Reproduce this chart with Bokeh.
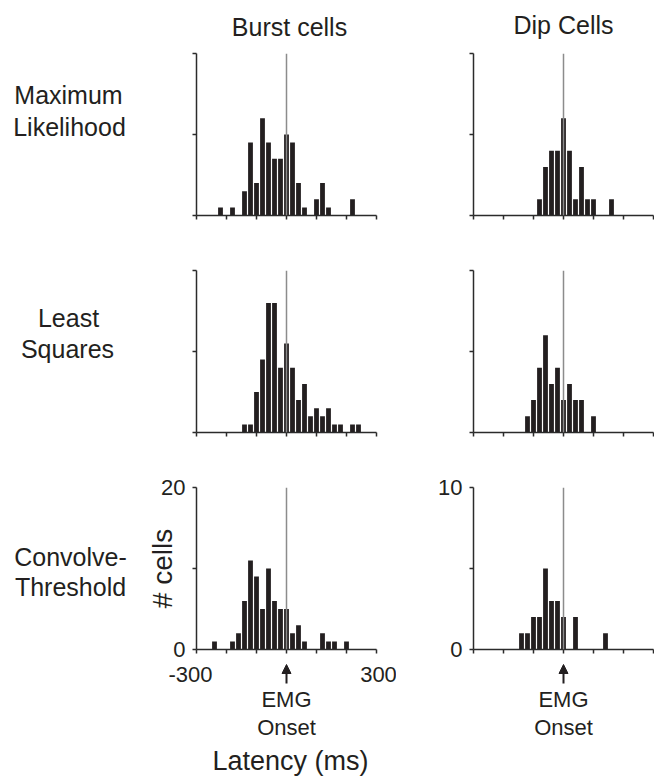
from bokeh.plotting import figure
from bokeh.models import Range1d, FixedTicker, Label, Span, Arrow, NormalHead, Spacer
from bokeh.layouts import column, row
from bokeh.embed import file_html
from bokeh.resources import INLINE

# ---------------- data (bin centres in ms, number of cells) ----------------
burst_ml_x = [-220, -180, -140, -120, -100, -80, -60, -40, -20, 0, 20, 40, 60, 100, 120, 140, 220]
burst_ml_n = [1, 1, 3, 9, 4, 12, 9, 7, 7, 10, 9, 4, 1, 2, 4, 1, 2]

dip_ml_x = [-80, -60, -40, -20, 0, 20, 40, 60, 80, 100, 160]
dip_ml_n = [1, 3, 4, 4, 6, 4, 1, 3, 1, 1, 1]

burst_ls_x = [-140, -120, -100, -80, -60, -40, -20, 0, 20, 40, 60, 80, 100, 120, 140, 160, 180, 220, 240]
burst_ls_n = [1, 1, 5, 9, 16, 16, 8, 11, 8, 4, 6, 2, 3, 2, 3, 1, 1, 1, 1]

dip_ls_x = [-120, -100, -80, -60, -40, -20, 0, 20, 40, 60, 100]
dip_ls_n = [1, 2, 4, 6, 3, 4, 2, 3, 2, 2, 1]

burst_ct_x = [-240, -180, -160, -140, -120, -100, -80, -60, -40, -20, 0, 20, 40, 60, 120, 140, 160, 200]
burst_ct_n = [1, 1, 2, 6, 11, 9, 5, 10, 6, 5, 5, 2, 3, 1, 2, 1, 1, 1]

dip_ct_x = [-140, -120, -100, -80, -60, -40, -20, 0, 40, 140]
dip_ct_n = [1, 1, 2, 2, 5, 3, 3, 2, 2, 1]

x_ticks = [-300, -200, -100, 0, 100, 200, 300]
x_tick_labels = {-300: "-300", 300: "300"}
burst_y_ticks = [0, 10, 20]
dip_y_ticks = [0, 5, 10]
onset_x = 0

col_titles = ["Burst cells", "Dip Cells"]
row_titles = [["Maximum", "Likelihood"], ["Least", "Squares"], ["Convolve-", "Threshold"]]
y_title = "# cells"
onset_text = ["EMG", "Onset"]
x_title = "Latency (ms)"

# ---------------- geometry (page pixels) ----------------
FONT = "Liberation Sans"
INK = "#231f20"
AXIS = "#2b2b2b"
GUIDE = "#8c8c8c"
XMIN, XMAX = -300, 300

COL0_W = 130
FW, FH = 180, 162
LEFT_B = [66, 77]
RIGHT_B = [20, 1]
COL_W = [LEFT_B[0] + FW + RIGHT_B[0], LEFT_B[1] + FW + RIGHT_B[1]]
COL_X = [COL0_W, COL0_W + COL_W[0]]          # page x where each panel column starts

TITLE_H = 50
TOP_B = [3, 35, 35]
BOT_B = [20, 20, 14]
ROW_H = [TOP_B[i] + FH + BOT_B[i] for i in range(3)]
ROW_Y = [TITLE_H, TITLE_H + ROW_H[0], TITLE_H + ROW_H[0] + ROW_H[1]]
BOTTOM_Y = ROW_Y[2] + ROW_H[2]
BOTTOM_H = 114


def text_fig(w, h, xr, yr, top=0, bottom=0):
    p = figure(frame_width=w, frame_height=h, min_border=0,
               min_border_top=top, min_border_bottom=bottom,
               x_range=xr, y_range=yr,
               x_axis_location=None, y_axis_location=None,
               output_backend="svg", toolbar_location=None, tools="")
    p.outline_line_color = None
    p.grid.visible = False
    p.background_fill_color = "white"
    p.border_fill_color = "white"
    return p


def label(p, text, x, y, size, x_offset=0):
    # y is the vertical centre of the text (page pixels)
    p.add_layout(Label(x=x, y=y, text=text, text_font=FONT, text_font_size=size,
                       text_color=INK, text_align="center", text_baseline="middle",
                       x_offset=x_offset))


def style_axis(ax):
    ax.axis_line_color = AXIS
    ax.axis_line_width = 1.5
    ax.major_tick_line_color = AXIS
    ax.major_tick_line_width = 1.5
    ax.major_tick_in = 0
    ax.major_tick_out = 4
    ax.minor_tick_line_color = None
    ax.major_label_text_font = FONT
    ax.major_label_text_color = INK
    ax.major_label_text_font_size = "22px"


def make_panel(r, c, xs, ns, yticks, show_ylabels):
    ymax = yticks[-1]
    p = figure(frame_width=FW, frame_height=FH,
               min_border_left=LEFT_B[c], min_border_right=RIGHT_B[c],
               min_border_top=TOP_B[r], min_border_bottom=BOT_B[r],
               x_range=Range1d(XMIN, XMAX), y_range=Range1d(0, ymax),
               output_backend="svg", toolbar_location=None, tools="")
    p.outline_line_color = None
    p.grid.visible = False
    p.background_fill_color = "white"
    p.border_fill_color = "white"

    p.vbar(x=xs, top=ns, bottom=0, width=16, fill_color=INK, line_color=None)
    p.add_layout(Span(location=onset_x, dimension="height", line_color=GUIDE, line_width=1.5))

    style_axis(p.xaxis[0])
    style_axis(p.yaxis[0])
    p.xaxis.ticker = FixedTicker(ticks=x_ticks)
    p.yaxis.ticker = FixedTicker(ticks=yticks)
    p.xaxis.major_label_overrides = {t: "" for t in x_ticks}
    p.xaxis.major_label_standoff = 0
    if show_ylabels:
        p.yaxis.major_label_standoff = 7
        p.yaxis.major_label_overrides = {yticks[1]: ""}
    else:
        p.yaxis.major_label_overrides = {t: "" for t in yticks}
        p.yaxis.major_label_standoff = 0
    return p


panels = [
    [make_panel(0, 0, burst_ml_x, burst_ml_n, burst_y_ticks, False),
     make_panel(0, 1, dip_ml_x, dip_ml_n, dip_y_ticks, False)],
    [make_panel(1, 0, burst_ls_x, burst_ls_n, burst_y_ticks, False),
     make_panel(1, 1, dip_ls_x, dip_ls_n, dip_y_ticks, False)],
    [make_panel(2, 0, burst_ct_x, burst_ct_n, burst_y_ticks, True),
     make_panel(2, 1, dip_ct_x, dip_ct_n, dip_y_ticks, True)],
]

# y-axis title on the bottom-left panel
ya = panels[2][0].yaxis[0]
ya.axis_label = y_title
ya.axis_label_text_font = FONT
ya.axis_label_text_font_size = "28px"
ya.axis_label_text_font_style = "normal"
ya.axis_label_text_color = INK
ya.axis_label_standoff = -20

# ---------------- column titles (page coordinates, text centres) ----------------
title_figs = []
title_pos = [(289, 26), (563, 24)]
for c in range(2):
    tf = text_fig(COL_W[c], TITLE_H,
                  Range1d(COL_X[c], COL_X[c] + COL_W[c]), Range1d(TITLE_H, 0))
    label(tf, col_titles[c], title_pos[c][0], title_pos[c][1], "25px")
    title_figs.append(tf)

# ---------------- row titles (page coordinates, text centres) ----------------
row_figs = []
row_pos = [[(68, 94), (69, 126)], [(68, 317), (67, 348)], [(70, 556), (70, 586)]]
for r in range(3):
    fy0 = ROW_Y[r] + TOP_B[r]
    rf = text_fig(COL0_W, FH, Range1d(0, COL0_W), Range1d(fy0 + FH, fy0),
                  top=TOP_B[r], bottom=BOT_B[r])
    for k in range(2):
        label(rf, row_titles[r][k], row_pos[r][k][0], row_pos[r][k][1], "25px")
    row_figs.append(rf)

# ---------------- bottom strip: tick labels, EMG onset arrow, axis title ----------------
bottom_figs = []
for c in range(2):
    fx0 = COL_X[c] + LEFT_B[c]
    scale = (XMAX - XMIN) / FW
    xr = Range1d(XMIN - (fx0 - COL_X[c]) * scale, XMAX + RIGHT_B[c] * scale)
    bf = text_fig(COL_W[c], BOTTOM_H, xr, Range1d(BOTTOM_Y + BOTTOM_H, BOTTOM_Y))
    bf.add_layout(Arrow(end=NormalHead(size=9, fill_color=INK, line_color=INK, line_width=1),
                        x_start=onset_x, y_start=683, x_end=onset_x, y_end=664,
                        line_color=INK, line_width=2))
    label(bf, onset_text[0], onset_x, 699, "22px")
    label(bf, onset_text[1], onset_x, 727, "22px")
    if c == 0:
        label(bf, x_tick_labels[-300], -300, 674, "22px", x_offset=-6)
        label(bf, x_tick_labels[300], 300, 674, "22px", x_offset=2)
        label(bf, x_title, onset_x, 760, "27px", x_offset=4)
    bottom_figs.append(bf)

layout = column(
    row(Spacer(width=COL0_W, height=TITLE_H), title_figs[0], title_figs[1]),
    row(row_figs[0], panels[0][0], panels[0][1]),
    row(row_figs[1], panels[1][0], panels[1][1]),
    row(row_figs[2], panels[2][0], panels[2][1]),
    row(Spacer(width=COL0_W, height=BOTTOM_H), bottom_figs[0], bottom_figs[1]),
)

open("out.html", "w").write(file_html(layout, INLINE))
